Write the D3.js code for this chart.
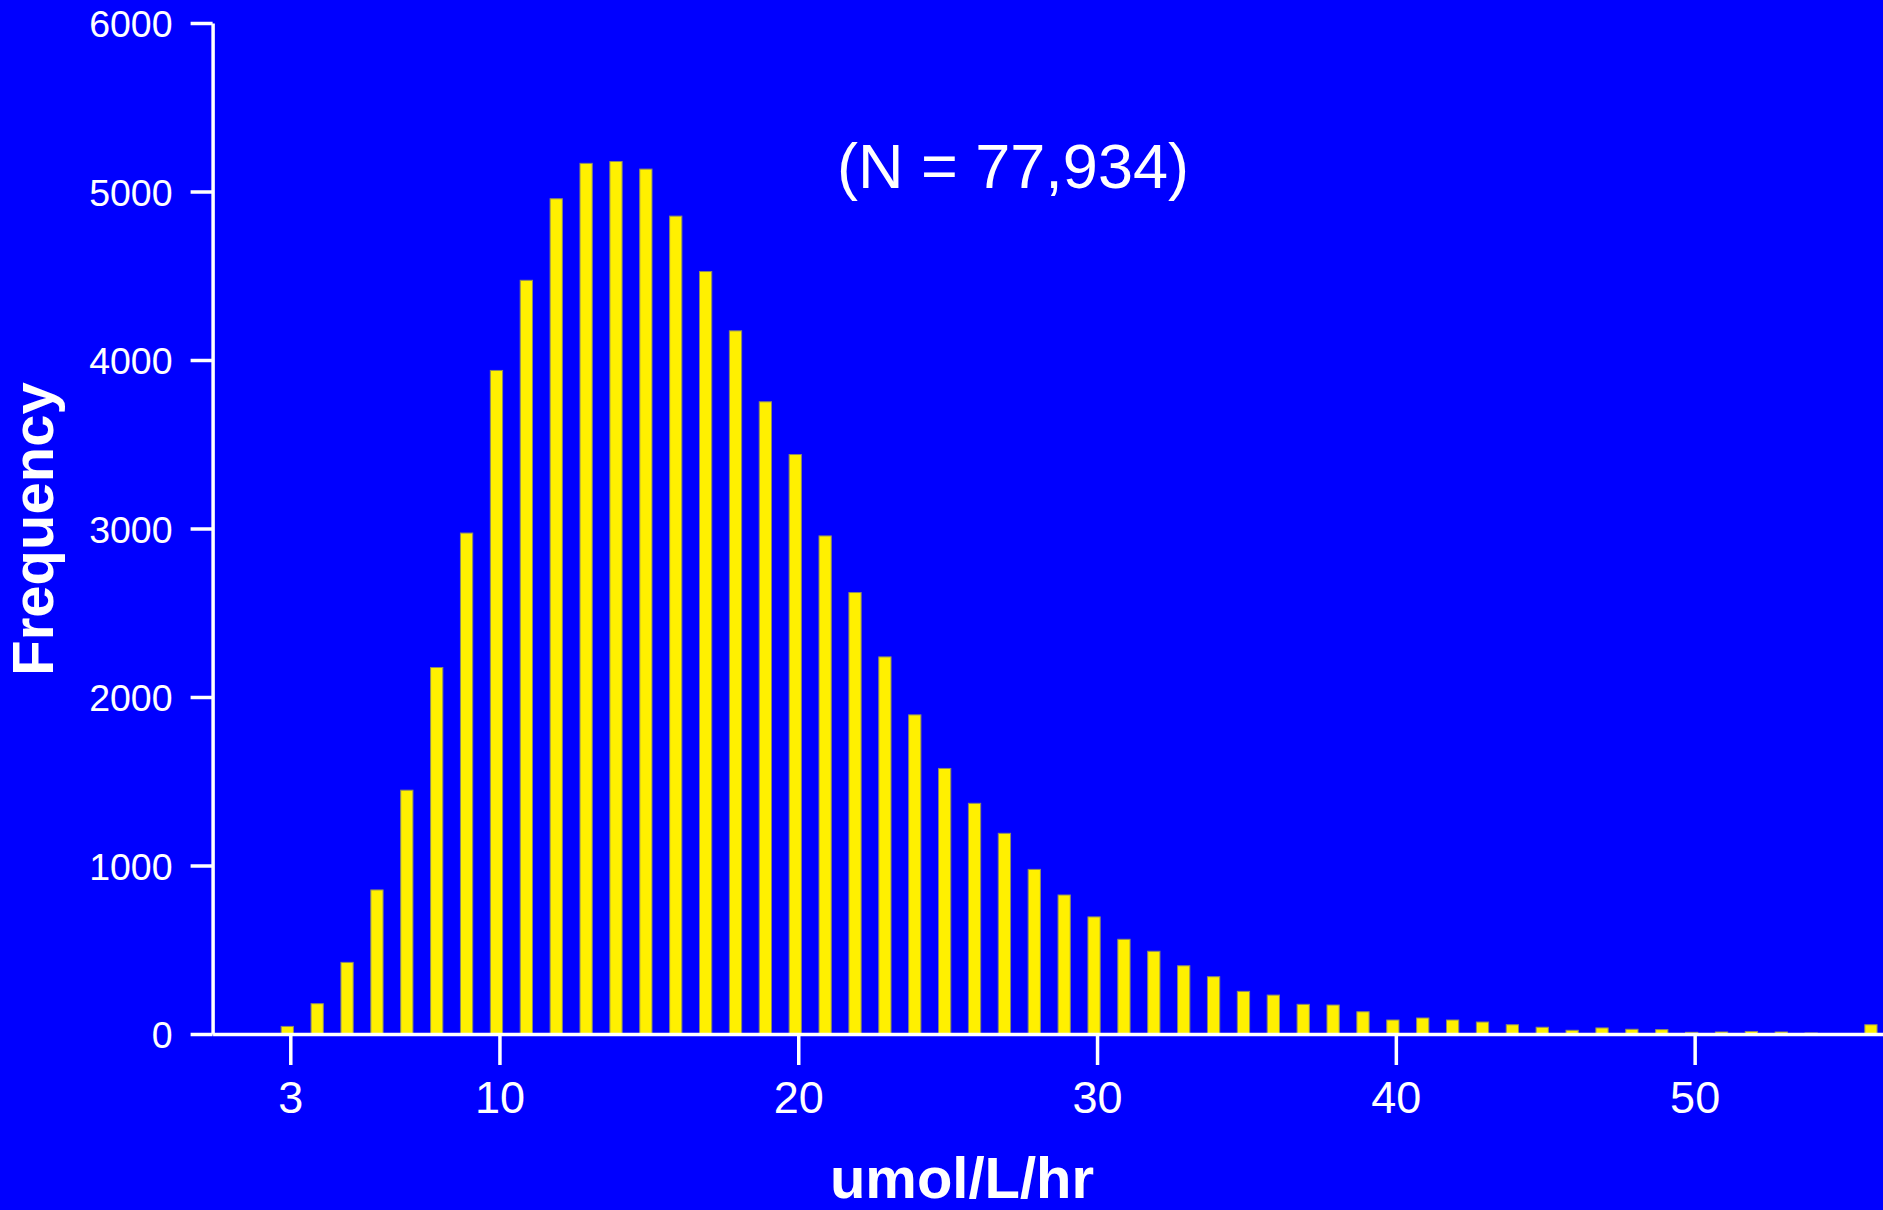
<!DOCTYPE html>
<html>
<head>
<meta charset="utf-8">
<script src="https://cdn.jsdelivr.net/npm/d3@7"></script>
<style>
    html, body {
        margin: 0;
        padding: 0;
        background: #0000ff;
        overflow: hidden;
    }
    svg text {
        font-family: "Liberation Sans", Arial, sans-serif;
        fill: #ffffff;
    }
</style>
</head>
<body>
<script>
// histogram bins (umol/L/hr) and their counts
const bins = [3, 4, 5, 6, 7, 8, 9, 10, 11, 12, 13, 14, 15, 16, 17, 18, 19, 20,
    21, 22, 23, 24, 25, 26, 27, 28, 29, 30, 31, 32, 33, 34, 35, 36, 37, 38,
    39, 40, 41, 42, 43, 44, 45, 46, 47, 48, 49, 50, 51, 52, 53, 54, 55, 56];
const counts = [45, 180, 425, 855, 1447, 2175, 2973, 3938, 4473, 4957, 5167, 5178, 5133, 4854, 4525, 4173, 3752, 3439,
    2956, 2620, 2238, 1894, 1576, 1369, 1191, 977, 825, 695, 562, 491, 405, 340, 253, 231, 176, 172,
    132, 83, 95, 83, 71, 55, 40, 22, 36, 28, 26, 10, 12, 15, 12, 6, 0, 55];
const xTicks = [3, 10, 20, 30, 40, 50];
const yTicks = [0, 1000, 2000, 3000, 4000, 5000, 6000];
const xLabel = "umol/L/hr";
const yLabel = "Frequency";
const note = "(N = 77,934)";

let wSvg = 1883;
let hSvg = 1210;
let plotLeft = 212.6;
let plotTop = 23;
let plotBottom = 1034;
let unit = 29.88; // px per bin

let svg = d3
    .select("body")
    .append("svg")
    .attr("width", wSvg)
    .attr("height", hSvg);

svg.append("rect")
    .attr("width", wSvg)
    .attr("height", hSvg)
    .attr("fill", "#0000ff");

let x = d3
    .scaleLinear()
    .domain([0.4, 0.4 + (wSvg - plotLeft) / unit])
    .range([plotLeft, wSvg]);

let y = d3
    .scaleLinear()
    .domain([0, 6000])
    .range([plotBottom, plotTop]);

// bars sit a little left of their integer value
let barData = bins.map((b, i) => ({ bin: b, count: counts[i] }));
svg.append("g")
    .selectAll("rect")
    .data(barData)
    .enter()
    .append("rect")
    .attr("x", (d) => x(d.bin - 0.305))
    .attr("width", (d) => x(d.bin + 0.105) - x(d.bin - 0.305))
    .attr("y", (d) => y(d.count))
    .attr("height", (d) => y(0) - y(d.count))
    .attr("fill", "#fff000")
    .attr("stroke", "#8a8a6a")
    .attr("stroke-width", 1)
    .attr("display", (d) => (d.count > 0 ? null : "none"));

// y axis
let gY = svg.append("g")
    .attr("transform", `translate(${plotLeft},0)`)
    .call(
        d3.axisLeft(y)
            .tickValues(yTicks)
            .tickSize(22)
            .tickSizeOuter(0)
            .tickPadding(18)
            .tickFormat(d3.format("d"))
    );
gY.selectAll("path, line").attr("stroke", "#ffffff").attr("stroke-width", 3.5);
gY.selectAll("text")
    .attr("font-size", 37.5)
    .attr("dy", "0.36em")
    .style("font-family", "'Liberation Sans', Arial, sans-serif")
    .attr("fill", "#ffffff");

// x axis
let gX = svg.append("g")
    .attr("transform", `translate(0,${plotBottom})`)
    .call(
        d3.axisBottom(x)
            .tickValues(xTicks)
            .tickSize(31)
            .tickSizeOuter(0)
            .tickFormat(d3.format("d"))
    );
gX.selectAll("path, line").attr("stroke", "#ffffff").attr("stroke-width", 3.5);
gX.selectAll("text")
    .attr("font-size", 45)
    .attr("y", 79)
    .attr("dy", 0)
    .style("font-family", "'Liberation Sans', Arial, sans-serif")
    .attr("fill", "#ffffff");

// labels
svg.append("text")
    .attr("x", 962)
    .attr("y", 1198)
    .attr("text-anchor", "middle")
    .attr("font-size", 58)
    .attr("font-weight", "bold")
    .text(xLabel);

svg.append("text")
    .attr("transform", "translate(53,529) rotate(-90)")
    .attr("text-anchor", "middle")
    .attr("font-size", 58)
    .attr("font-weight", "bold")
    .text(yLabel);

svg.append("text")
    .attr("x", 1013)
    .attr("y", 188)
    .attr("text-anchor", "middle")
    .attr("font-size", 63)
    .text(note);
</script>
</body>
</html>
